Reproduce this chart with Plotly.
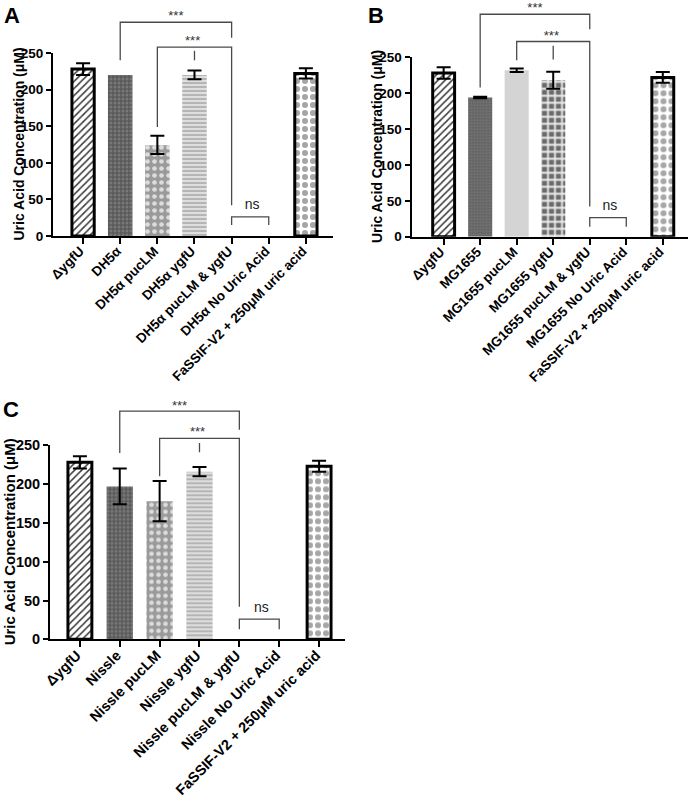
import plotly.graph_objects as go

W, H = 692, 803

# ---------------- data ----------------
cats_A = ["ΔygfU", "DH5α", "DH5α pucLM", "DH5α ygfU", "DH5α pucLM & ygfU",
          "DH5α No Uric Acid", "FaSSIF-V2 + 250μM uric acid"]
mean_A = [228, 220, 124, 220, 0, 0, 222]
errp_A = [8, None, 13, 6, None, None, 7]
errm_A = [8, None, 12, 6, None, None, 7]

cats_B = ["ΔygfU", "MG1655", "MG1655 pucLM", "MG1655 ygfU", "MG1655 pucLM & ygfU",
          "MG1655 No Uric Acid", "FaSSIF-V2 + 250μM uric acid"]
mean_B = [228, 194, 232, 218, 0, 0, 222]
errp_B = [8, 1, 2.5, 12, None, None, 7.5]
errm_B = [8, 1, 2.5, 12, None, None, 7.5]

cats_C = ["ΔygfU", "Nissle", "Nissle pucLM", "Nissle ygfU", "Nissle pucLM & ygfU",
          "Nissle No Uric Acid", "FaSSIF-V2 + 250μM uric acid"]
mean_C = [228, 197, 178, 216, 0, 0, 223]
errp_C = [8, 23, 26, 6, None, None, 7]
errm_C = [8, 23, 26, 6, None, None, 7]

yticks = [0, 50, 100, 150, 200, 250]

# significance brackets: [left-leg end, bracket level, right-leg end]
outer_A, inner_A, mark_A, ns_A, stars_A, nstext_A = [240, 292, 271], [149, 258, 42], [240, 253], [15, 26], [299, 265], 42
outer_B, inner_B, mark_B, ns_B, stars_B, nstext_B = [208, 310, 289], [246, 272, 42], [247, 266], [14, 26.5], [318, 279], 42
outer_C, inner_C, mark_C, ns_C, stars_C, nstext_C = [240, 294, 270], [210, 259, 42], [241, 253], [13, 26], [300, 266], 40

# ---------------- styles ----------------
FONT = "Liberation Sans, Arial, sans-serif"

style_AC = dict(
    shape=["/", ".", ".", "-", ".", ".", "."],
    bg=["white", "#5a5a5a", "#9a9a9a", "#dedede", "white", "white", "white"],
    fg=["#3a3a3a", "#787878", "#dcdcdc", "#9a9a9a", "white", "white", "#a6a6a6"],
    size=[5, 4, 7, 4, 6, 6, 8],
    sol=[0.3, 0.45, 0.35, 0.3, 0.3, 0.3, 0.45],
)
style_B = dict(
    shape=["/", ".", ".", "+", ".", ".", "."],
    bg=["white", "#727272", "#d4d4d4", "#6a6a6a", "white", "white", "white"],
    fg=["#3a3a3a", "#5c5c5c", "#d4d4d4", "#ececec", "white", "white", "#a6a6a6"],
    size=[5, 3, 6, 7, 6, 6, 8],
    sol=[0.3, 0.4, 0.3, 0.45, 0.3, 0.3, 0.45],
)
line_w = [3, 0, 0, 0, 0, 0, 3]
bar_w = [0.6, 0.66, 0.66, 0.66, 0.66, 0.66, 0.6]

# panel geometry in pixels
panels = [
    dict(key="A", cats=cats_A, mean=mean_A, ep=errp_A, em=errm_A, st=style_AC,
         outer=outer_A, inner=inner_A, mark=mark_A, ns=ns_A, stars=stars_A, nstext=nstext_A,
         xpx=(53, 333), xr=(-0.81, 6.73), y0=236, y250=53, top=0, tfs=13.5, ttl=14,
         title_x=18, letter=(2, 1)),
    dict(key="B", cats=cats_B, mean=mean_B, ep=errp_B, em=errm_B, st=style_B,
         outer=outer_B, inner=inner_B, mark=mark_B, ns=ns_B, stars=stars_B, nstext=nstext_B,
         xpx=(411.5, 688), xr=(-0.88, 6.69), y0=236.7, y250=57.3, top=0, tfs=13.5, ttl=14,
         title_x=377, letter=(366, 1)),
    dict(key="C", cats=cats_C, mean=mean_C, ep=errp_C, em=errm_C, st=style_AC,
         outer=outer_C, inner=inner_C, mark=mark_C, ns=ns_C, stars=stars_C, nstext=nstext_C,
         xpx=(50, 345), xr=(-0.75, 6.65), y0=639.3, y250=445.3, top=390, tfs=14.5, ttl=15,
         title_x=9, letter=(1, 395)),
]

fig = go.Figure()
layout = dict(width=W, height=H, margin=dict(l=0, r=0, t=0, b=0, autoexpand=False),
              paper_bgcolor="white", plot_bgcolor="rgba(0,0,0,0)",
              showlegend=False, font=dict(family=FONT, color="black"))
annotations = []

def py(p):
    return 1 - p / H

BR_COL = "#4a4a4a"

for i, p in enumerate(panels):
    n = i + 1
    xa = "x" if n == 1 else f"x{n}"
    ya = "y" if n == 1 else f"y{n}"
    ya2n = n + 3
    ya2 = f"y{ya2n}"
    st = p["st"]

    fig.add_trace(go.Bar(
        x=list(range(7)), y=p["mean"], width=bar_w, xaxis=xa, yaxis=ya,
        marker=dict(color="white",
                    line=dict(color="black", width=line_w),
                    pattern=dict(shape=st["shape"], bgcolor=st["bg"], fgcolor=st["fg"],
                                 fgopacity=1, size=st["size"], solidity=st["sol"],
                                 fillmode="replace")),
        hoverinfo="skip",
    ))

    # error bars only where an SD was shown
    idx = [k for k in range(7) if p["ep"][k] is not None]
    fig.add_trace(go.Scatter(
        x=idx, y=[p["mean"][k] for k in idx], mode="markers",
        marker=dict(size=1, color="rgba(0,0,0,0)"), xaxis=xa, yaxis=ya,
        error_y=dict(type="data", symmetric=False,
                     array=[p["ep"][k] for k in idx], arrayminus=[p["em"][k] for k in idx],
                     color="black", thickness=2, width=7),
        cliponaxis=False, hoverinfo="skip"))

    # significance brackets (on extended axis)
    o, m = p["outer"], p["inner"]
    for xs, ys in (([1, 1, 4, 4], [o[0], o[1], o[1], o[2]]),
                   ([2, 2, 4, 4], [m[0], m[1], m[1], m[2]]),
                   ([3, 3], p["mark"]),
                   ([4, 4, 5, 5], [p["ns"][0], p["ns"][1], p["ns"][1], p["ns"][0]])):
        fig.add_trace(go.Scatter(x=xs, y=ys, mode="lines",
                                 line=dict(color=BR_COL, width=1.3),
                                 xaxis=xa, yaxis=ya2, hoverinfo="skip"))
    fig.add_trace(go.Scatter(x=[2.5, 2.95], y=p["stars"], mode="text", text=["***", "***"],
                             textfont=dict(size=13, color="#333333", family=FONT),
                             cliponaxis=False, xaxis=xa, yaxis=ya2, hoverinfo="skip"))
    fig.add_trace(go.Scatter(x=[4.55], y=[p["nstext"]], mode="text", text=["ns"],
                             textfont=dict(size=14, color="#222222", family=FONT),
                             cliponaxis=False, xaxis=xa, yaxis=ya2, hoverinfo="skip"))

    ppu = (p["y0"] - p["y250"]) / 250.0
    ymax2 = (p["y0"] - p["top"]) / ppu
    xdom = [p["xpx"][0] / W, p["xpx"][1] / W]
    tf = dict(size=p["tfs"], family=FONT, color="black", weight="bold")

    layout["xaxis" if n == 1 else f"xaxis{n}"] = dict(
        domain=xdom, range=list(p["xr"]), anchor=ya, automargin=False,
        tickvals=list(range(7)), ticktext=p["cats"], tickangle=-45,
        ticklabelstandoff=-6, ticklabelshift=-3,
        tickfont=tf, ticks="outside", ticklen=6, tickwidth=2, tickcolor="black",
        showline=True, linewidth=2, linecolor="black", showgrid=False, zeroline=False,
        fixedrange=True)
    layout["yaxis" if n == 1 else f"yaxis{n}"] = dict(
        domain=[py(p["y0"]), py(p["y250"])], range=[0, 250], anchor=xa, automargin=False,
        tickvals=yticks, tickfont=tf, ticks="outside", ticklen=5, tickwidth=2,
        tickcolor="black", showline=True, linewidth=2, linecolor="black",
        showgrid=False, zeroline=False, fixedrange=True)
    layout[f"yaxis{ya2n}"] = dict(
        domain=[py(p["y0"]), py(p["top"])], range=[0, ymax2], anchor=xa, automargin=False,
        visible=False, showgrid=False, zeroline=False, fixedrange=True)

    annotations.append(dict(
        text="Uric Acid Concentration (μM)", textangle=-90, showarrow=False,
        xref="paper", yref="paper", x=p["title_x"] / W,
        y=py((p["y0"] + p["y250"]) / 2), xanchor="center", yanchor="middle",
        font=dict(size=p["ttl"], family=FONT, color="black", weight="bold")))
    annotations.append(dict(
        text=p["key"], showarrow=False, xref="paper", yref="paper",
        x=p["letter"][0] / W, y=py(p["letter"][1]), xanchor="left", yanchor="top",
        font=dict(size=22, family=FONT, color="black", weight="bold")))

layout["annotations"] = annotations
fig.update_layout(**layout)
fig.write_html("out.html", config={"displayModeBar": False},
               post_script="document.body.style.margin='0';document.body.style.overflow='hidden';")
